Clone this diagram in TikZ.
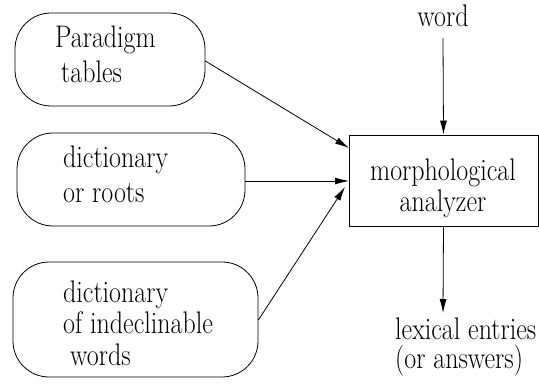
\documentclass[tikz,border=0pt]{standalone}
\usepackage{graphicx}
\usetikzlibrary{arrows.meta}
\newcommand\stretchtxt[1]{\scalebox{1}[1.2]{#1}}
\begin{document}
\begin{tikzpicture}[x=1pt,y=-1pt,
  every node/.style={font=\fontsize{26}{31}\selectfont, inner sep=0pt},
  roundbox/.style={draw, line width=0.8pt, rounded corners=36pt},
  txt/.style={anchor=base west},
  ctxt/.style={anchor=base},
  arr/.style={line width=0.8pt, -{Latex[length=14pt,width=7pt]}}]
\useasboundingbox (0,0) rectangle (539,385);
% input boxes
\node[roundbox, minimum width=190pt, minimum height=93pt] (par) at (110,59.5) {};
\node[roundbox, minimum width=228pt, minimum height=93pt] (dic) at (131,179.5) {};
\node[roundbox, minimum width=245pt, minimum height=115pt] (ind) at (135.5,319.5) {};
\node[txt] (t1a) at (55,48) {\stretchtxt{Paradigm}};
\node[txt] (t1b) at (61,83) {\stretchtxt{tables}};
\node[txt] (t2a) at (63,168) {\stretchtxt{dictionary}};
\node[txt] (t2b) at (63,203) {\stretchtxt{or roots}};
\node[txt] (t3a) at (63,302) {\stretchtxt{dictionary}};
\node[txt] (t3b) at (63,334) {\stretchtxt{of indeclinable}};
\node[txt] (t3c) at (70,365) {\stretchtxt{words}};
% analyzer
\node[draw, line width=0.8pt, minimum width=189pt, minimum height=91pt] (ana) at (443.5,180.5) {};
\node[ctxt] (t4a) at (443,181) {\stretchtxt{morphological}};
\node[ctxt] (t4b) at (443,212) {\stretchtxt{analyzer}};
\node[ctxt] (word) at (443,27) {\stretchtxt{word}};
\node[txt] (lex) at (395,339) {\stretchtxt{lexical entries}};
\node[txt] (ans) at (395,368) {\stretchtxt{(or answers)}};
\coordinate (wtop) at (443,38);
\coordinate (lexin) at (443,313);
\coordinate (e1) at (349,148);
\coordinate (e2) at (349,181);
\coordinate (e3) at (345,187);
\draw[arr] (wtop) -- (ana.north);
\draw[arr] (ana.south) -- (lexin);
\draw[arr] (par.east |- 0,61) -- (e1);
\draw[arr] (dic.east |- 0,181) -- (e2);
\draw[arr] (ind.east |- 0,320) -- (e3);
\end{tikzpicture}
\end{document}
